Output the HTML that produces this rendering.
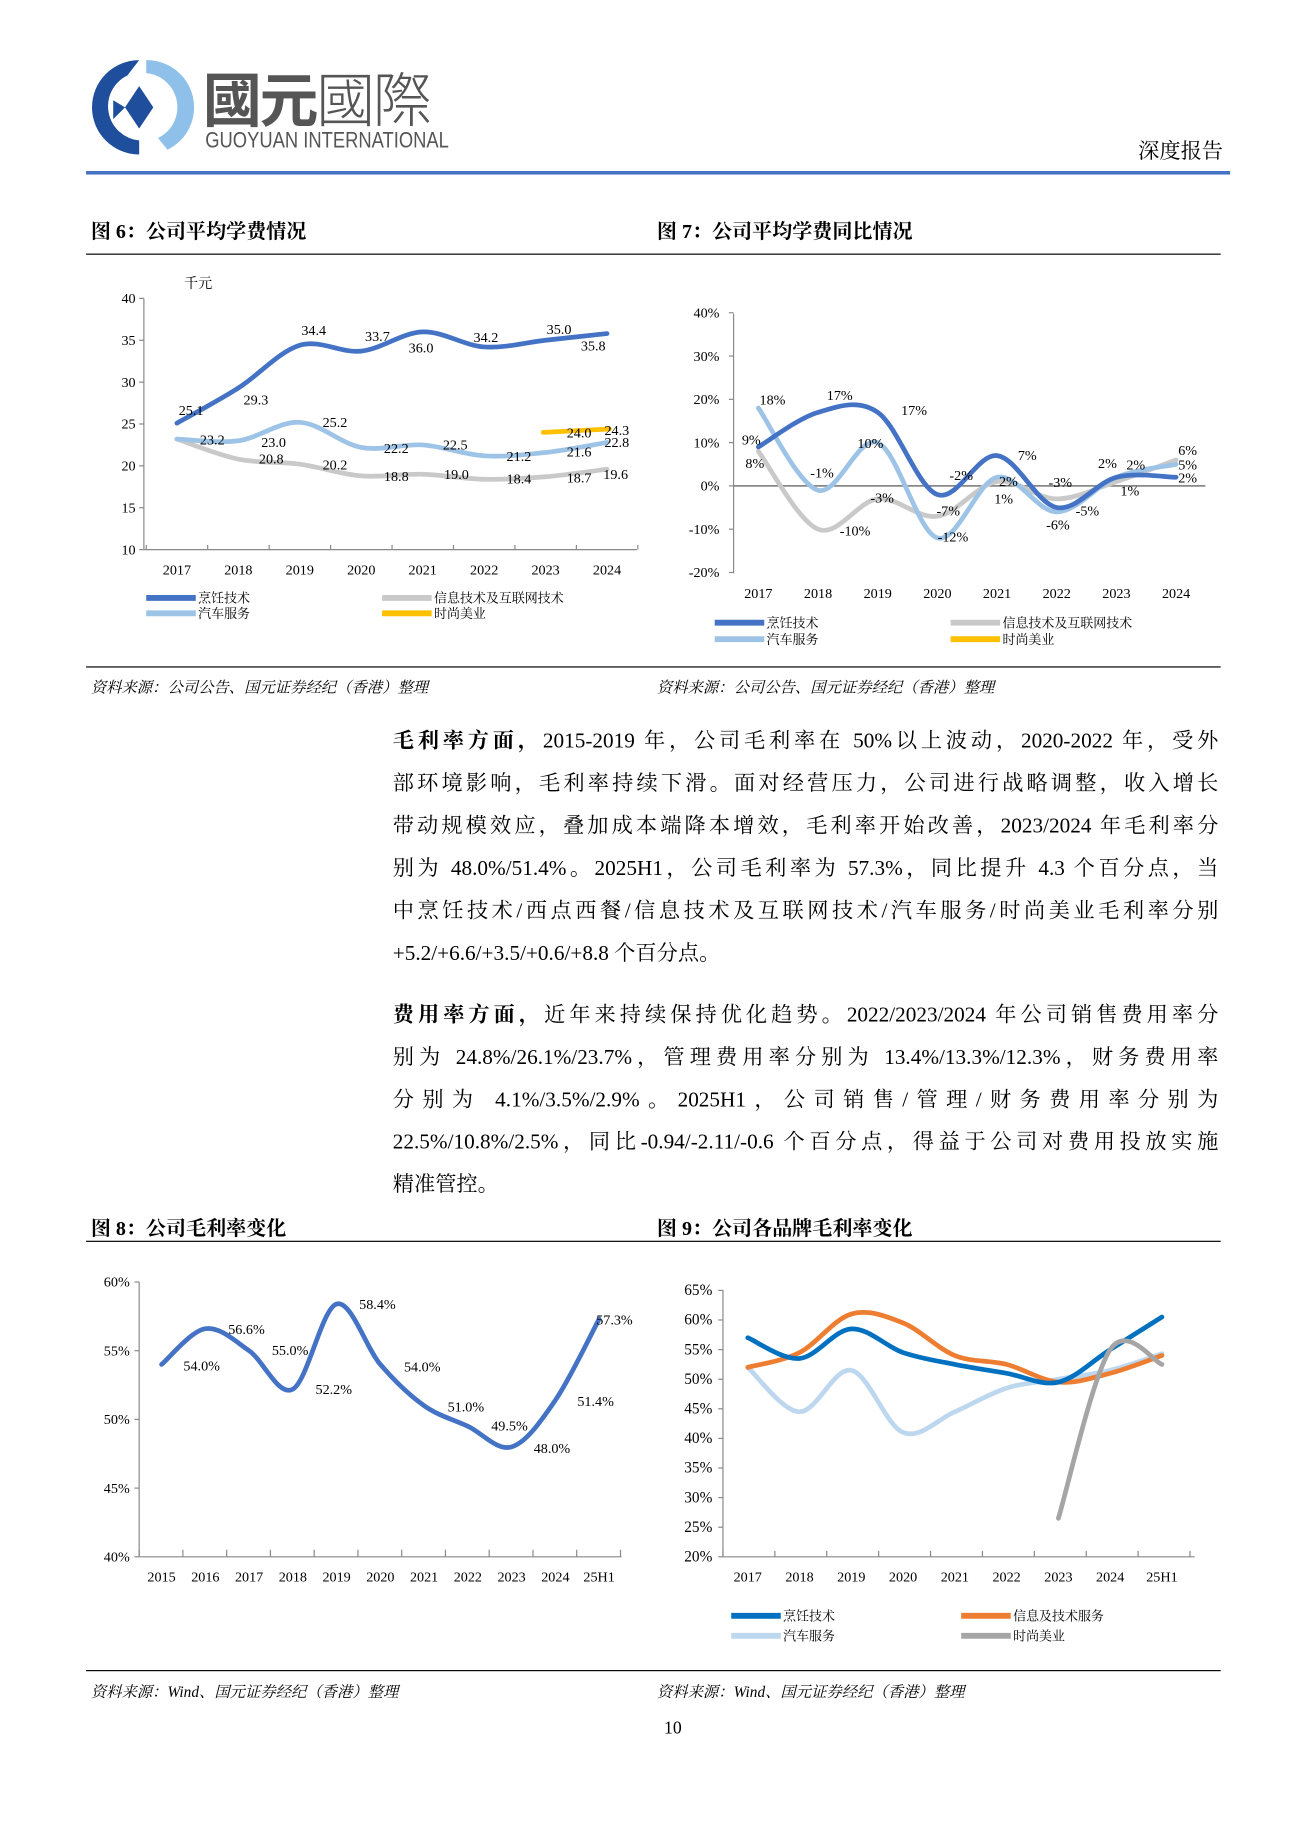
<!DOCTYPE html>
<html><head><meta charset="utf-8">
<style>
html,body{margin:0;padding:0;background:#fff;}
body{width:1306px;height:1847px;overflow:hidden;position:relative;}
#w{position:absolute;left:0;top:0;width:1108px;height:1566px;transform:scale(1.1794);transform-origin:0 0;font-family:"Liberation Serif","Noto Serif CJK SC",serif;color:#000;}
.a{position:absolute;white-space:nowrap;}
.t{font-size:17px;font-weight:bold;font-family:"Liberation Serif","Noto Serif CJK SC",serif;}
.src{font-size:13px;font-style:italic;}
.p{position:absolute;left:333px;width:700px;font-size:18px;line-height:36px;text-align:justify;text-align-last:justify;white-space:nowrap;}
.hl{position:absolute;left:73px;width:962px;height:1px;background:#000;}
svg{position:absolute;left:0;top:0;}
svg text{font-family:"Liberation Serif","Noto Serif CJK SC",serif;}
</style></head><body>
<div id="w">
<svg width="200" height="150" style="left:70px;top:45px">
<path d="M48 6 A40 40 0 0 0 48 86 L48 74 A29 29 0 0 1 38 19 Z" fill="#1f4e9c"/>
<path d="M54 6 A40 40 0 0 1 72 82 L64 72 A29 29 0 0 0 54 17 Z" fill="#8fc0ea"/>
<path d="M48 28 L60 46 L48 64 L36 46 Z" fill="#1f4e9c"/>
<path d="M26 40 L36 46 L26 56 Z" fill="#1f4e9c"/>
</svg>
<div class="a" style="left:172px;top:52px;font-size:50px;font-weight:bold;color:#555;font-family:'Noto Sans CJK TC',sans-serif;line-height:60px;letter-spacing:-2px">國元<span style="font-weight:300">國際</span></div>
<div class="a" style="left:174px;top:109px;font-size:19px;color:#555;font-family:'Liberation Sans',sans-serif;transform:scaleX(0.82);transform-origin:0 0;">GUOYUAN INTERNATIONAL</div>
<div class="a" style="left:965px;top:114px;font-size:18px;">深度报告</div>
<div class="a" style="left:73px;top:145px;width:970px;height:3px;background:#4472c4"></div>

<div class="a t" style="left:77px;top:182px">图 6：公司平均学费情况</div>
<div class="a t" style="left:557px;top:182px">图 7：公司平均学费同比情况</div>
<div class="hl" style="top:215px"></div>
<div class="hl" style="top:565px"></div>
<div class="a src" style="left:77px;top:572px">资料来源：公司公告、国元证券经纪（香港）整理</div>
<div class="a src" style="left:557px;top:572px">资料来源：公司公告、国元证券经纪（香港）整理</div>

<div class="p" style="top:610px">
<div><b>毛利率方面，</b>2015-2019 年，公司毛利率在 50%以上波动，2020-2022 年，受外</div>
<div>部环境影响，毛利率持续下滑。面对经营压力，公司进行战略调整，收入增长</div>
<div>带动规模效应，叠加成本端降本增效，毛利率开始改善，2023/2024 年毛利率分</div>
<div>别为 48.0%/51.4%。2025H1，公司毛利率为 57.3%，同比提升 4.3 个百分点，当</div>
<div>中烹饪技术/西点西餐/信息技术及互联网技术/汽车服务/时尚美业毛利率分别</div>
<div style="text-align-last:left">+5.2/+6.6/+3.5/+0.6/+8.8 个百分点。</div>
</div>
<div class="p" style="top:842px">
<div><b>费用率方面，</b>近年来持续保持优化趋势。2022/2023/2024 年公司销售费用率分</div>
<div>别为 24.8%/26.1%/23.7%，管理费用率分别为 13.4%/13.3%/12.3%，财务费用率</div>
<div>分别为 4.1%/3.5%/2.9%。2025H1，公司销售/管理/财务费用率分别为</div>
<div>22.5%/10.8%/2.5%，同比-0.94/-2.11/-0.6 个百分点，得益于公司对费用投放实施</div>
<div style="text-align-last:left">精准管控。</div>
</div>

<div class="a t" style="left:77px;top:1027px">图 8：公司毛利率变化</div>
<div class="a t" style="left:557px;top:1027px">图 9：公司各品牌毛利率变化</div>
<div class="hl" style="top:1052px"></div>
<div class="hl" style="top:1416px"></div>
<div class="a src" style="left:77px;top:1424px">资料来源：Wind、国元证券经纪（香港）整理</div>
<div class="a src" style="left:557px;top:1424px">资料来源：Wind、国元证券经纪（香港）整理</div>
<div class="a" style="left:563px;top:1458px;font-size:15px">10</div>

<svg id="c" width="1100" height="1556"></svg>
</div>
<script>
var s=document.getElementById('c'),o='';
function sm(pts){var d='M'+pts[0][0]+' '+pts[0][1];for(var i=0;i<pts.length-1;i++){var p0=pts[i-1]||pts[i],p1=pts[i],p2=pts[i+1],p3=pts[i+2]||p2;var t=6;d+=' C'+(p1[0]+(p2[0]-p0[0])/t)+' '+(p1[1]+(p2[1]-p0[1])/t)+' '+(p2[0]-(p3[0]-p1[0])/t)+' '+(p2[1]-(p3[1]-p1[1])/t)+' '+p2[0]+' '+p2[1];}return d;}
function ln(x1,y1,x2,y2,c,w){o+='<line x1="'+x1+'" y1="'+y1+'" x2="'+x2+'" y2="'+y2+'" stroke="'+(c||'#888')+'" stroke-width="'+(w||1)+'"/>';}
function tx(x,y,t,a,sz){o+='<text x="'+x+'" y="'+y+'" font-size="'+(sz||12)+'" text-anchor="'+(a||'middle')+'">'+t+'</text>';}
function path(pts,c,w){o+='<path d="'+sm(pts)+'" fill="none" stroke="'+c+'" stroke-width="'+(w||4)+'" stroke-linecap="round"/>';}
function ser(xs,vals,fy,c,off){var p=[];for(var i=0;i<vals.length;i++)if(vals[i]!=null)p.push([xs[i+(off||0)],fy(vals[i])]);path(p,c);}
function leg(x,y,c,t){ln(x,y,x+42,y,c,5);tx(x+44,y+4,t,'start',11);}
var x6=[],i;for(i=0;i<8;i++)x6.push(150+i*52.1);
var f6=function(v){return 466-(v-10)*7.1;};
ln(122,253,122,466);ln(122,466,540,466);
for(i=10;i<=40;i+=5){ln(118,f6(i),122,f6(i));tx(115,f6(i)+4,i,'end');}
for(i=0;i<=8;i++)ln(124+i*52.1,466,124+i*52.1,462);
for(i=0;i<8;i++)tx(x6[i],487,2017+i);
tx(168,244,'千元','middle',12);
ser(x6,[23.2,20.8,20.2,18.8,19.0,18.4,18.7,19.6],f6,'#c9c9c9');
ser(x6,[23.2,23.0,25.2,22.2,22.5,21.2,21.6,22.8],f6,'#9dc3e6');
ser(x6,[25.1,29.3,34.4,33.7,36.0,34.2,35.0,35.8],f6,'#4472c4');
path([[x6[6]-2,f6(24.0)],[x6[7]+2,f6(24.4)]],'#ffc000');
[[162,352,'25.1'],[217,343,'29.3'],[266,284,'34.4'],[320,289,'33.7'],[357,299,'36.0'],[412,290,'34.2'],[474,283,'35.0'],[503,297,'35.8'],
[180,377,'23.2'],[232,379,'23.0'],[284,362,'25.2'],[336,384,'22.2'],[386,381,'22.5'],[440,391,'21.2'],[491,387,'21.6'],[523,379,'22.8'],
[230,393,'20.8'],[284,398,'20.2'],[336,408,'18.8'],[387,406,'19.0'],[440,410,'18.4'],[491,409,'18.7'],[522,406,'19.6'],[491,371,'24.0'],[523,369,'24.3']].forEach(function(a){tx(a[0],a[1],a[2]);});
leg(124,507,'#4472c4','烹饪技术');leg(124,520,'#9dc3e6','汽车服务');leg(324,507,'#c9c9c9','信息技术及互联网技术');leg(324,520,'#ffc000','时尚美业');
var x7=[];for(i=0;i<8;i++)x7.push(643+i*50.6);
var f7=function(v){return 412-v*3.67;};
ln(622,266,622,486);ln(622,412,1022,412,'#888',1.5);
for(i=-20;i<=40;i+=10){ln(618,f7(i),622,f7(i));tx(610,f7(i)+4,i+'%','end');}
for(i=0;i<8;i++)tx(x7[i],507,2017+i);
ser(x7,[8,-10,-3,-7,1,-3,1,6],f7,'#c9c9c9');
ser(x7,[18,-1,10,-12,2,-6,2,5],f7,'#9dc3e6');
ser(x7,[9,17,17,-2,7,-5,2,2],f7,'#4472c4');
[[655,343,'18%'],[637,377,'9%'],[640,397,'8%'],[712,339,'17%'],[697,405,'-1%'],[738,380,'10%'],[775,352,'17%'],[725,454,'-10%'],[748,426,'-3%'],[815,407,'-2%'],[804,437,'-7%'],[808,459,'-12%'],[871,390,'7%'],[855,412,'2%'],[851,427,'1%'],[899,413,'-3%'],[922,437,'-5%'],[897,449,'-6%'],[939,397,'2%'],[963,398,'2%'],[958,420,'1%'],[1007,386,'6%'],[1007,398,'5%'],[1007,409,'2%']].forEach(function(a){tx(a[0],a[1],a[2]);});
leg(606,528,'#4472c4','烹饪技术');leg(606,542,'#9dc3e6','汽车服务');leg(806,528,'#c9c9c9','信息技术及互联网技术');leg(806,542,'#ffc000','时尚美业');
var x8=[];for(i=0;i<11;i++)x8.push(137+i*37.1);
var f8=function(v){return 1320-(v-40)*11.65;};
ln(118,1087,118,1320);ln(118,1320,527,1320);
for(i=40;i<=60;i+=5){ln(114,f8(i),118,f8(i));tx(110,f8(i)+4,i+'%','end');}
for(i=0;i<=11;i++)ln(118+i*37.1,1320,118+i*37.1,1314);
var l8=['2015','2016','2017','2018','2019','2020','2021','2022','2023','2024','25H1'];
for(i=0;i<11;i++)tx(x8[i],1341,l8[i]);
ser(x8,[54.0,56.6,55.0,52.2,58.4,54.0,51.0,49.5,48.0,51.4,57.3],f8,'#4472c4');
[[171,1162,'54.0%'],[209,1131,'56.6%'],[246,1149,'55.0%'],[283,1182,'52.2%'],[320,1110,'58.4%'],[358,1163,'54.0%'],[395,1197,'51.0%'],[432,1213,'49.5%'],[468,1232,'48.0%'],[505,1192,'51.4%'],[521,1123,'57.3%']].forEach(function(a){tx(a[0],a[1],a[2]);});
var x9=[];for(i=0;i<9;i++)x9.push(634+i*43.9);
var f9=function(v){return 1320-(v-20)*5.02;};
ln(613,1094,613,1320);ln(613,1320,1013,1320);
for(i=20;i<=65;i+=5){ln(609,f9(i),613,f9(i));tx(604,f9(i)+4,i+'%','end',13);}
for(i=0;i<=9;i++)ln(613+i*44,1320,613+i*44,1315);
var l9=['2017','2018','2019','2020','2021','2022','2023','2024','25H1'];
for(i=0;i<9;i++)tx(x9[i],1341,l9[i]);
ser(x9,[52,44.5,51.5,41,44.5,48.5,50,51.5,54.3],f9,'#bdd7ee');
ser(x9,[52,54.5,61,59.5,54,52.5,49.5,51,54],f9,'#ed7d31');
ser(x9,[57,53.5,58.5,54.5,52.5,51,49.5,55,60.5],f9,'#0070c0');
path([[x9[6],f9(26.5)],[x9[7],f9(55)],[x9[8],f9(52.5)]],'#a5a5a5');
leg(620,1370,'#0070c0','烹饪技术');leg(620,1387,'#bdd7ee','汽车服务');leg(815,1370,'#ed7d31','信息及技术服务');leg(815,1387,'#a5a5a5','时尚美业');
s.innerHTML=o;
</script>
</body></html>
